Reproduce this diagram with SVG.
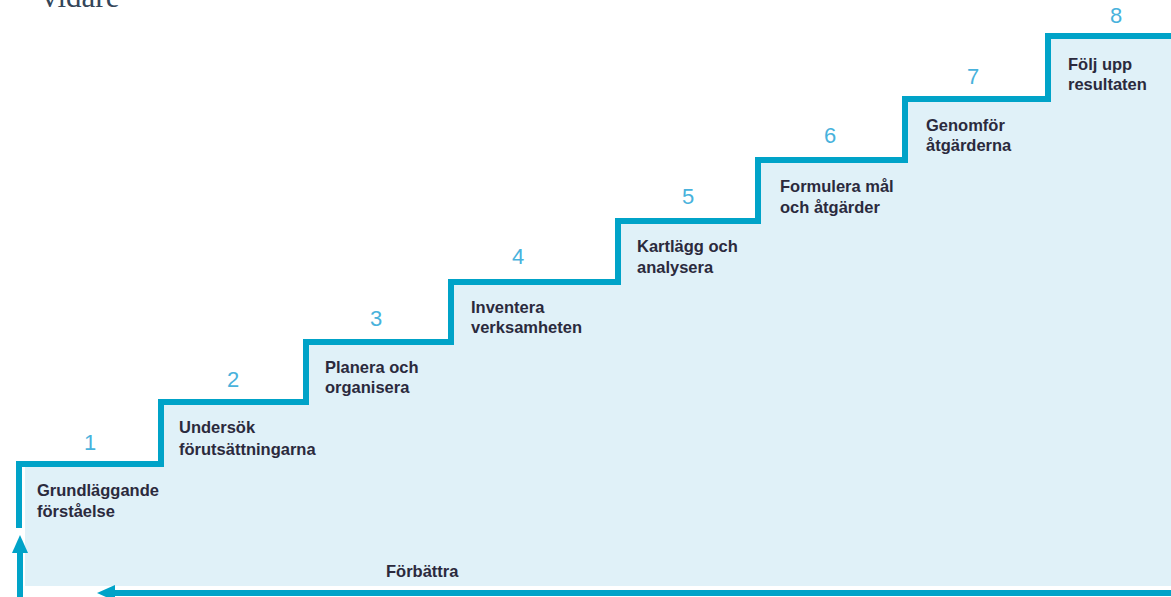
<svg xmlns="http://www.w3.org/2000/svg" width="1171" height="597" viewBox="0 0 1171 597">
<defs>
<style>
.lbl{font-family:"Liberation Sans",Arial,sans-serif;font-weight:bold;font-size:16.5px;fill:#2b2a3d}
.num{font-family:"Liberation Sans",Arial,sans-serif;font-size:22px;fill:#48b2dc;text-anchor:middle}
.line{fill:none;stroke:#00a3c8;stroke-width:6}
</style>
<marker id="ah" viewBox="0 0 18 16" refX="8" refY="8" markerWidth="18" markerHeight="16" orient="auto" markerUnits="userSpaceOnUse">
<path d="M0,0 L18,8 L0,16 z" fill="#00a3c8"/>
</marker>
</defs>
<rect width="1171" height="597" fill="#ffffff"/>
<text x="42" y="7" font-family="Liberation Serif,serif" font-size="31" fill="#34465a">vidare</text>
<path d="M25,464 H161 V402 H306 V342 H451 V282 H618 V221 H758 V160 H905 V99 H1048 V36 H1171 V586 H25 Z" fill="#e0f1f8"/>
<g id="connectors">
<path class="line" d="M19,528 V464 H161 V402 H306 V342 H451 V282 H618 V221 H758 V160 H905 V99 H1048 V36 H1171"/>
<path class="line" d="M1171,593 H107" marker-end="url(#ah)"/>
<path class="line" d="M20,597 V545" marker-end="url(#ah)"/>
</g>
<g id="step1"><text class="num" x="90" y="450">1</text><text class="lbl" x="37" y="496">Grundläggande</text><text class="lbl" x="37" y="517">förståelse</text></g>
<g id="step2"><text class="num" x="233" y="387">2</text><text class="lbl" x="179" y="433">Undersök</text><text class="lbl" x="179" y="455">förutsättningarna</text></g>
<g id="step3"><text class="num" x="376" y="326">3</text><text class="lbl" x="325" y="373">Planera och</text><text class="lbl" x="325" y="393">organisera</text></g>
<g id="step4"><text class="num" x="518" y="264">4</text><text class="lbl" x="471" y="313">Inventera</text><text class="lbl" x="471" y="333">verksamheten</text></g>
<g id="step5"><text class="num" x="688" y="204">5</text><text class="lbl" x="637" y="252">Kartlägg och</text><text class="lbl" x="637" y="273">analysera</text></g>
<g id="step6"><text class="num" x="830" y="143">6</text><text class="lbl" x="780" y="192">Formulera mål</text><text class="lbl" x="780" y="213">och åtgärder</text></g>
<g id="step7"><text class="num" x="973" y="84">7</text><text class="lbl" x="926" y="131">Genomför</text><text class="lbl" x="926" y="151">åtgärderna</text></g>
<g id="step8"><text class="num" x="1116" y="23">8</text><text class="lbl" x="1068" y="70">Följ upp</text><text class="lbl" x="1068" y="90">resultaten</text></g>
<g id="improve"><text class="lbl" x="386" y="577">Förbättra</text></g>
</svg>
